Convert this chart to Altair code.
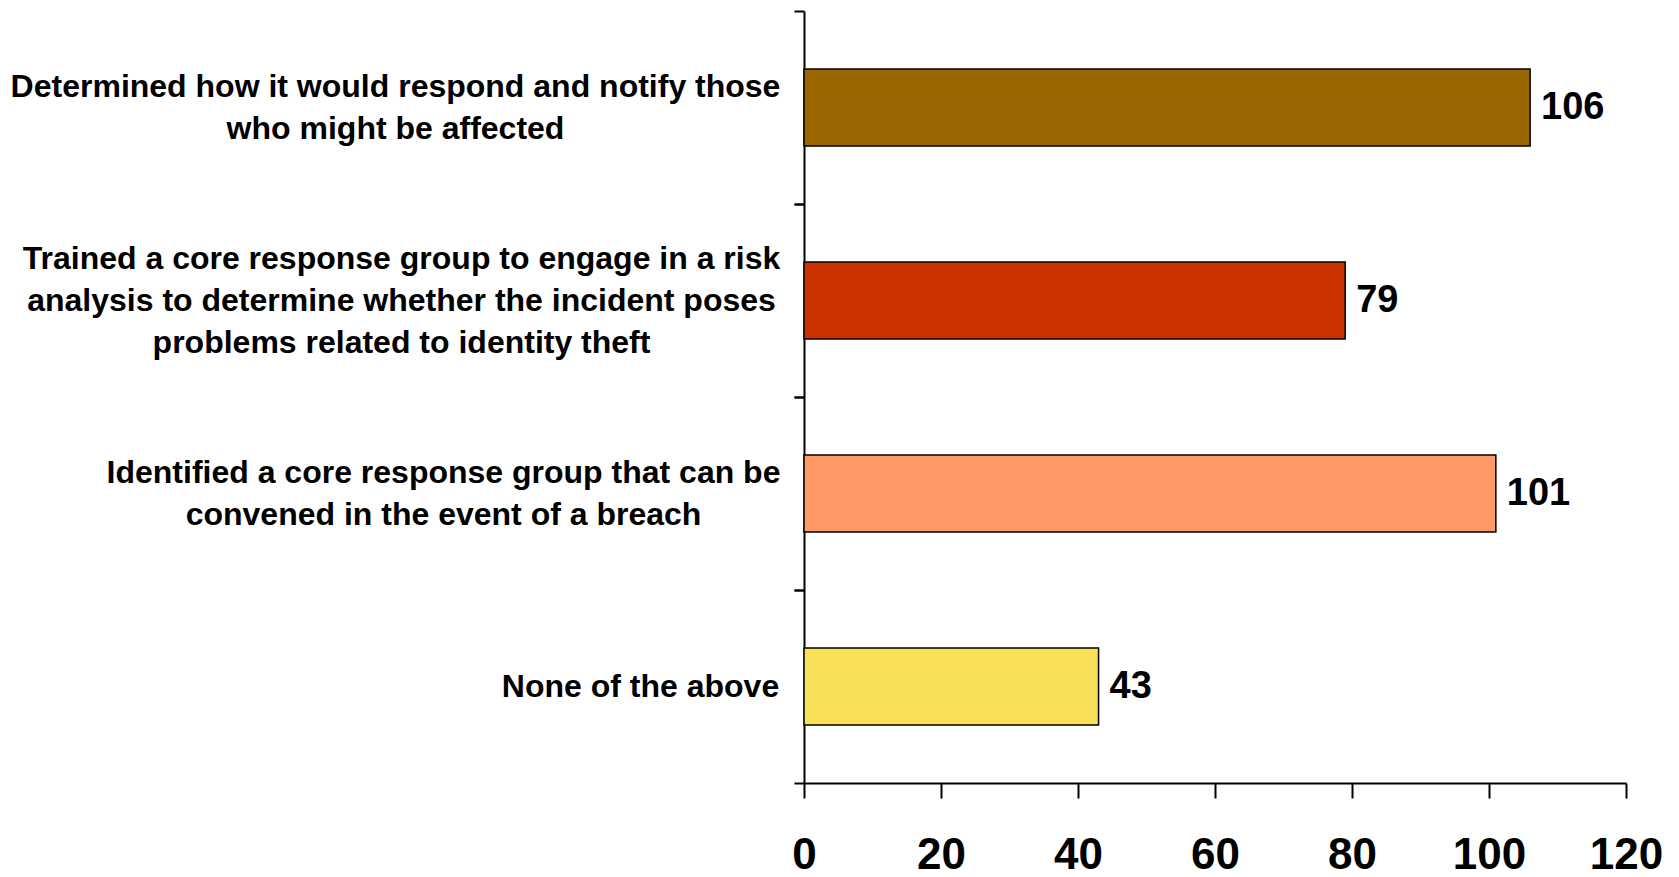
import altair as alt
import pandas as pd

categories = [
    "Determined how it would respond and notify those|who might be affected",
    "Trained a core response group to engage in a risk|analysis to determine whether the incident poses|problems related to identity theft",
    "Identified a core response group that can be|convened in the event of a breach",
    "None of the above",
]
values = [106, 79, 101, 43]
colors = ["#996600", "#CC3300", "#FF9966", "#F9E059"]
x_ticks = [0, 20, 40, 60, 80, 100, 120]
# distance from the y axis to the centre of each (centred, multi-line) label
label_pads = [409, 403, 361, 164]

df = pd.DataFrame({"category": categories, "value": values, "color": colors})

FONT = "Liberation Sans"
LINE_H = 42
y_scale = alt.Scale(domain=categories, paddingInner=0.6, paddingOuter=0.3)

x_enc = alt.X(
    "value:Q",
    scale=alt.Scale(domain=[0, 120], nice=False),
    axis=alt.Axis(
        title=None,
        values=x_ticks,
        labelFont=FONT,
        labelFontSize=44,
        labelFontWeight="bold",
        labelColor="black",
        labelPadding=35,
        tickSize=15,
        tickWidth=2,
        tickColor="black",
        domainColor="black",
        domainWidth=2,
        grid=False,
        labelFlush=False,
        orient="bottom",
    ),
)

# bars + y axis line with ticks on the upper band boundaries
bars = alt.Chart(df).mark_bar(stroke="black", strokeWidth=1.5).encode(
    y=alt.Y(
        "category:N",
        scale=y_scale,
        axis=alt.Axis(
            title=None,
            orient="left",
            labels=False,
            bandPosition=-0.75,
            tickSize=10,
            tickWidth=2,
            tickColor="black",
            domainColor="black",
            domainWidth=2,
            grid=False,
        ),
    ),
    x=x_enc,
    color=alt.Color("color:N", scale=None),
)

# value labels + ticks on the lower band boundaries
texts = alt.Chart(df).mark_text(
    align="left", baseline="middle", dx=11,
    font=FONT, fontSize=38, fontWeight="bold", color="black",
).encode(
    y=alt.Y(
        "category:N",
        scale=y_scale,
        axis=alt.Axis(
            title=None,
            orient="left",
            labels=False,
            domain=False,
            grid=False,
            bandPosition=1.75,
            tickSize=10,
            tickWidth=2,
            tickColor="black",
        ),
    ),
    x=alt.X("value:Q", axis=alt.Axis(grid=False)),
    text=alt.Text("value:Q"),
)

label_layers = []
for cat, pad in zip(categories, label_pads):
    key = cat.split("|")[0].replace("'", "\\'")
    n_lines = len(cat.split("|"))
    label_layers.append(
        alt.Chart(df).mark_point(opacity=0).encode(
            y=alt.Y(
                "category:N",
                scale=y_scale,
                axis=alt.Axis(
                    title=None,
                    orient="left",
                    domain=False,
                    ticks=False,
                    grid=False,
                    tickSize=0,
                    labelExpr=f"indexof(datum.value, '{key}') == 0 ? split(datum.value, '|') : ''",
                    labelAlign="center",
                    labelBaseline="middle",
                    labelFont=FONT,
                    labelFontSize=32,
                    labelFontWeight="bold",
                    labelColor="black",
                    labelLineHeight=LINE_H,
                    labelLimit=1000,
                    labelPadding=pad,
                    labelOffset=-(n_lines - 1) * LINE_H / 2,
                    labelOverlap=False,
                ),
            ),
            x=alt.X("value:Q", axis=alt.Axis(grid=False)),
        )
    )

chart = alt.layer(bars, texts, *label_layers).resolve_axis(y="independent").properties(
    width=822,
    height=772,
    autosize=alt.AutoSizeParams(type="none"),
    padding={"left": 804, "top": 11, "right": 53, "bottom": 94},
    view=alt.ViewBackground(stroke="transparent", strokeOpacity=0, strokeWidth=0),
).configure_view(stroke="transparent", strokeOpacity=0, strokeWidth=0).configure_axis(
    grid=False
).configure(background="white")

chart.save("out.html", embed_options={"renderer": "svg", "actions": False})
